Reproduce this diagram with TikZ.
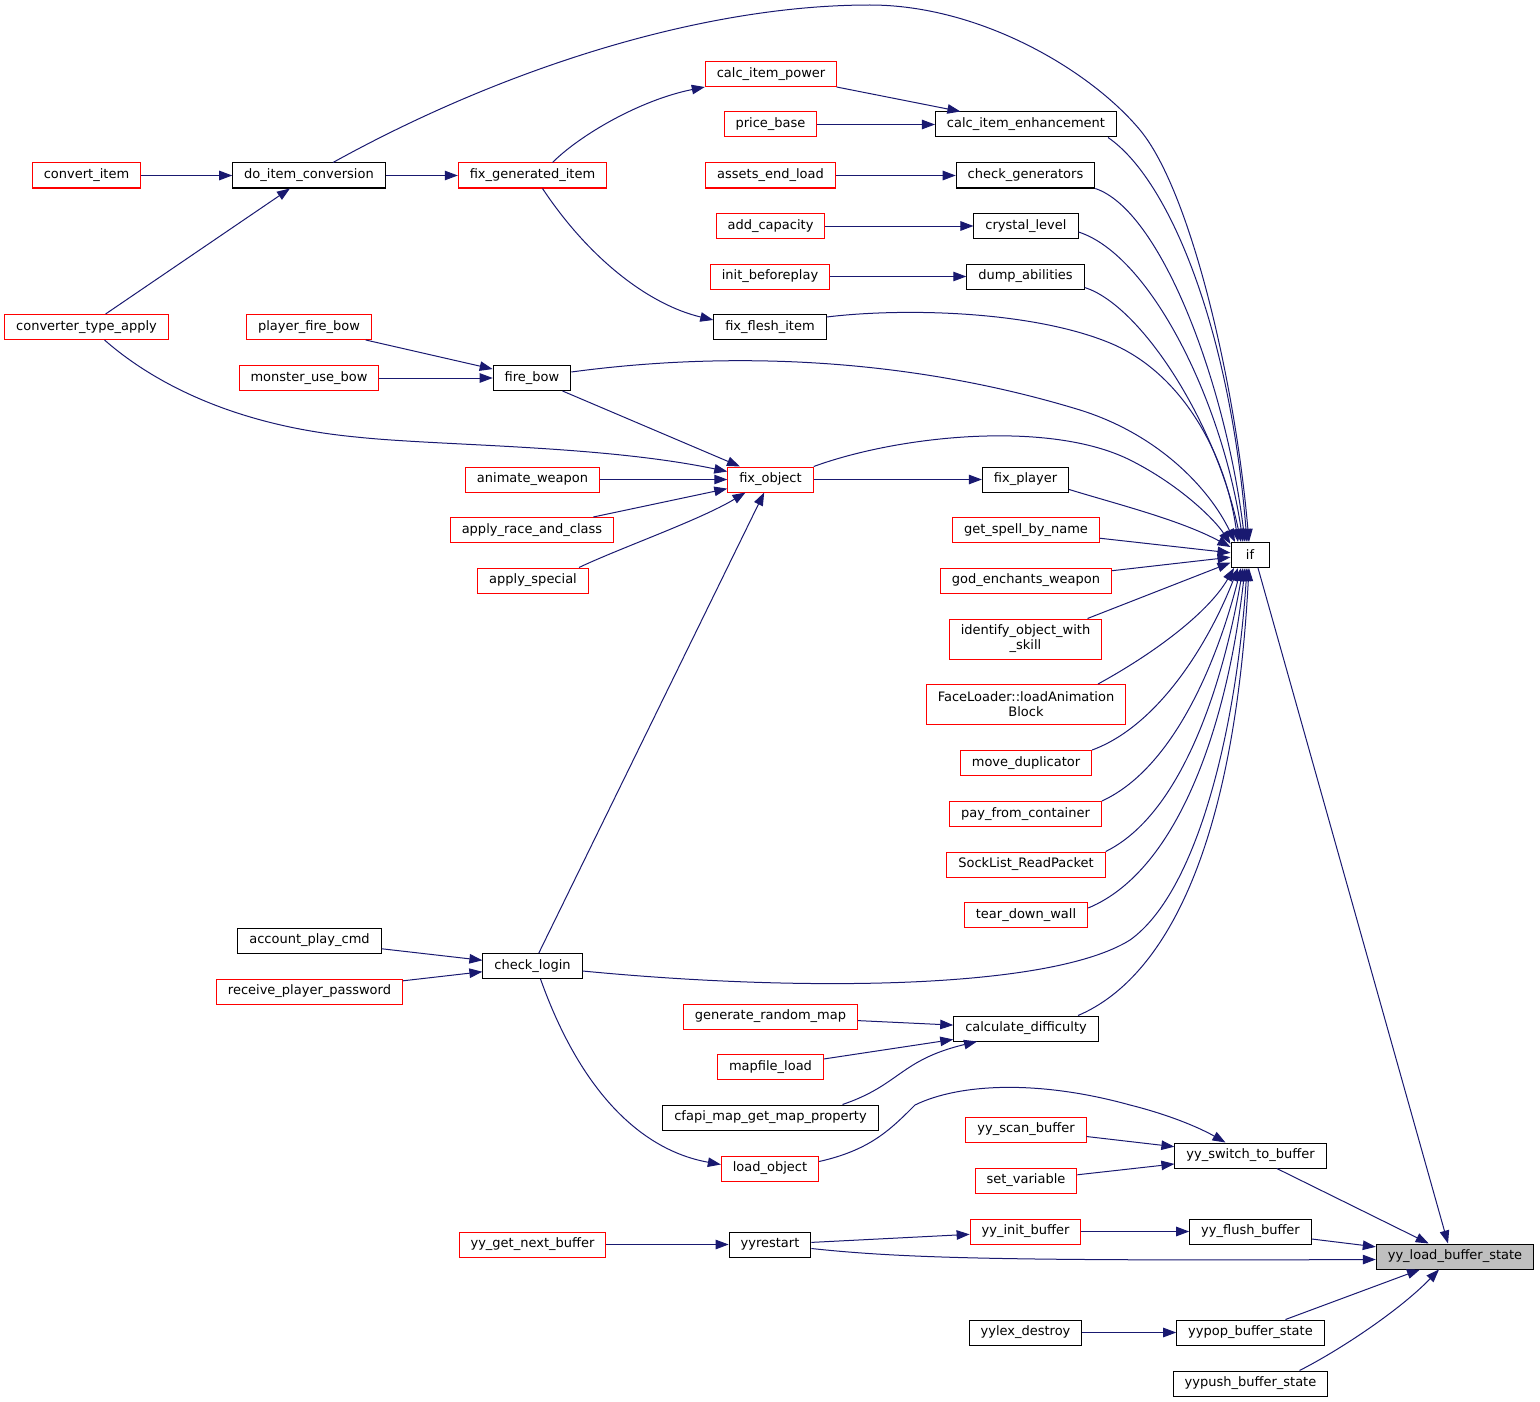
\documentclass[tikz,border=0pt]{standalone}
\usepackage{fontspec}
\setmainfont{DejaVu Sans}
\usetikzlibrary{arrows.meta}
\definecolor{edgeblue}{HTML}{191970}
\definecolor{curgray}{HTML}{BFBFBF}
\begin{document}
\begin{tikzpicture}[x=1pt,y=-1pt,
		fn/.style={draw=black,fill=white,line width=1pt,minimum height=25pt,inner xsep=11.5pt,inner ysep=0pt,font=\fontsize{13}{15}\selectfont},
		fnred/.style={fn,draw=red},
		fncur/.style={fn,fill=curgray},
		call/.style={edgeblue,line width=1pt,-{Triangle[length=13pt,width=9.5pt]}}]
		\useasboundingbox (0,0) rectangle (1540,1402);
		% functions
		\node[fnred] (convItem) at (86.5,175.5) {convert\_item};
		\node[fn] (doConv) at (309,175.5) {do\_item\_conversion};
		\node[fnred] (fixGen) at (532.5,175.5) {fix\_generated\_item};
		\node[fnred] (calcPower) at (771,74) {calc\_item\_power};
		\node[fnred] (priceBase) at (770.5,124.5) {price\_base};
		\node[fn] (calcEnh) at (1026,124.5) {calc\_item\_enhancement};
		\node[fnred] (assetsEnd) at (770.5,175.5) {assets\_end\_load};
		\node[fn] (checkGen) at (1025.5,175.5) {check\_generators};
		\node[fnred] (addCap) at (770.5,226) {add\_capacity};
		\node[fn] (crystal) at (1026,226) {crystal\_level};
		\node[fnred] (initBefore) at (770,276.5) {init\_beforeplay};
		\node[fn] (dumpAb) at (1025.5,276.5) {dump\_abilities};
		\node[fnred] (convType) at (86.5,327) {converter\_type\_apply};
		\node[fnred] (playerBow) at (309,327) {player\_fire\_bow};
		\node[fn] (fixFlesh) at (770,327) {fix\_flesh\_item};
		\node[fnred] (monsterBow) at (309,378) {monster\_use\_bow};
		\node[fn] (fireBow) at (532,378) {fire\_bow};
		\node[fnred] (animWeap) at (532.5,479.5) {animate\_weapon};
		\node[fnred] (fixObj) at (770.5,479.5) {fix\_object};
		\node[fn] (fixPlayer) at (1025.5,479.5) {fix\_player};
		\node[fnred] (applyRace) at (532,530) {apply\_race\_and\_class};
		\node[fnred] (getSpell) at (1026,530) {get\_spell\_by\_name};
		\node[fn,minimum width=38pt] (ifNode) at (1250,555) {if};
		\node[fnred] (applySpec) at (533,580.5) {apply\_special};
		\node[fnred] (godEnch) at (1026,580.5) {god\_enchants\_weapon};
		\node[fnred,minimum height=40pt,align=center] (identify) at (1025.5,639) {identify\_object\_with\\\_skill};
		\node[fnred,minimum height=40pt,align=center] (faceLoad) at (1026,704.5) {FaceLoader::loadAnimation\\Block};
		\node[fnred] (moveDup) at (1026,763) {move\_duplicator};
		\node[fnred] (payFrom) at (1025.5,814) {pay\_from\_container};
		\node[fnred] (sockList) at (1026,864.5) {SockList\_ReadPacket};
		\node[fnred] (tearDown) at (1026,915) {tear\_down\_wall};
		\node[fn] (acctPlay) at (309.5,940.5) {account\_play\_cmd};
		\node[fn] (checkLogin) at (532.5,966) {check\_login};
		\node[fnred] (recvPass) at (309.5,991.5) {receive\_player\_password};
		\node[fnred] (genRand) at (770.5,1016.5) {generate\_random\_map};
		\node[fn] (calcDiff) at (1026,1028.5) {calculate\_difficulty};
		\node[fnred] (mapfile) at (770.5,1067) {mapfile\_load};
		\node[fn] (cfapi) at (770.5,1117.5) {cfapi\_map\_get\_map\_property};
		\node[fnred] (yyScan) at (1026,1129.5) {yy\_scan\_buffer};
		\node[fn] (yySwitch) at (1250.5,1155.5) {yy\_switch\_to\_buffer};
		\node[fnred] (loadObj) at (770,1168.5) {load\_object};
		\node[fnred] (setVar) at (1026,1180.5) {set\_variable};
		\node[fnred] (yyInit) at (1025.5,1231.5) {yy\_init\_buffer};
		\node[fn] (yyFlush) at (1250.5,1231.5) {yy\_flush\_buffer};
		\node[fnred] (yyGetNext) at (532.5,1244.5) {yy\_get\_next\_buffer};
		\node[fn] (yyRestart) at (770,1244.5) {yyrestart};
		\node[fncur] (yyLoad) at (1455,1256.5) {yy\_load\_buffer\_state};
		\node[fn] (yylexDestroy) at (1025.5,1332.5) {yylex\_destroy};
		\node[fn] (yyPop) at (1250.5,1332.5) {yypop\_buffer\_state};
		\node[fn] (yyPush) at (1250.5,1383.5) {yypush\_buffer\_state};
		% calls
		\draw[call] (convItem) -- (doConv);
		\draw[call] (convType) -- (doConv);
		\draw[call] (doConv) -- (fixGen);
		\draw[call] ([xshift=24pt]doConv.north) .. controls (500,70) and (700,5) .. (870,5) .. controls (980,5) and (1090,70) .. (1140,130) .. controls (1190,190) and (1235,380) .. ([xshift=-1pt]ifNode.north);
		\draw[call] ([xshift=20pt]fixGen.north) .. controls (580,135) and (640,100) .. (calcPower.south west);
		\draw[call] ([xshift=10pt]fixGen.south) .. controls (590,260) and (650,305) .. ([yshift=7pt]fixFlesh.west);
		\draw[call] (calcPower) -- (calcEnh);
		\draw[call] (priceBase) -- (calcEnh);
		\draw[call] ([xshift=-9pt]calcEnh.south east) .. controls (1170,180) and (1230,330) .. ([xshift=-3pt]ifNode.north);
		\draw[call] (assetsEnd) -- (checkGen);
		\draw[call] (checkGen.south east) .. controls (1160,210) and (1225,380) .. ([xshift=-5pt]ifNode.north);
		\draw[call] (addCap) -- (crystal);
		\draw[call] ([yshift=-6pt]crystal.east) .. controls (1150,255) and (1222,400) .. ([xshift=-7pt]ifNode.north);
		\draw[call] (initBefore) -- (dumpAb);
		\draw[call] ([yshift=-11pt]dumpAb.east) .. controls (1140,305) and (1215,420) .. ([xshift=-9pt]ifNode.north);
		\draw[call] ([yshift=10pt]fixFlesh.east) .. controls (900,308) and (1030,310) .. (1110,343) .. controls (1180,372) and (1225,450) .. ([xshift=-12pt]ifNode.north);
		\draw[call] (playerBow) -- (fireBow);
		\draw[call] (monsterBow) -- (fireBow);
		\draw[call] ([yshift=6pt]fireBow.east) .. controls (720,352) and (900,355) .. (1080,410) .. controls (1160,435) and (1210,490) .. ([xshift=-15pt]ifNode.north);
		\draw[call] (fireBow) -- (fixObj);
		\draw[call] ([xshift=18pt]convType.south) .. controls (150,380) and (230,425) .. (356,437) .. controls (440,446) and (600,445) .. ([yshift=8pt]fixObj.west);
		\draw[call] (animWeap) -- (fixObj);
		\draw[call] (applyRace) -- (fixObj);
		\draw[call] ([xshift=46pt]applySpec.north) .. controls (620,548) and (700,520) .. ([xshift=-25pt]fixObj.south);
		\draw[call] (checkLogin) -- (fixObj);
		\draw[call] (fixObj) -- (fixPlayer);
		\draw[call] (fixObj.north east) .. controls (900,435) and (1050,420) .. (1130,460) .. controls (1180,485) and (1215,520) .. ([yshift=-2pt]ifNode.north west);
		\draw[call] ([yshift=-10pt]fixPlayer.east) .. controls (1120,505) and (1180,520) .. ([yshift=-5pt]ifNode.north west);
		\draw[call] (getSpell) -- (ifNode);
		\draw[call] (godEnch) -- (ifNode);
		\draw[call] ([xshift=62pt]identify.north) -- (ifNode);
		\draw[call] ([xshift=72pt]faceLoad.north) .. controls (1160,650) and (1210,610) .. ([xshift=-16pt]ifNode.south);
		\draw[call] (moveDup.north east) .. controls (1160,725) and (1210,640) .. ([xshift=-12pt]ifNode.south);
		\draw[call] (payFrom.north east) .. controls (1170,770) and (1215,670) .. ([xshift=-9pt]ifNode.south);
		\draw[call] (sockList.north east) .. controls (1180,815) and (1222,690) .. ([xshift=-7pt]ifNode.south);
		\draw[call] ([yshift=-6pt]tearDown.north east) .. controls (1180,870) and (1228,720) .. ([xshift=-5pt]ifNode.south);
		\draw[call] ([yshift=-5pt]checkLogin.east) .. controls (800,992) and (1050,990) .. (1130,940) .. controls (1200,890) and (1237,720) .. ([xshift=-3pt]ifNode.south);
		\draw[call] ([xshift=52pt]calcDiff.north) .. controls (1150,985) and (1232,880) .. ([xshift=-1pt]ifNode.south);
		\draw[call] ([xshift=8pt]ifNode.south) -- ([xshift=-7pt]yyLoad.north);
		\draw[call] (acctPlay) -- (checkLogin);
		\draw[call] (recvPass) -- (checkLogin);
		\draw[call] ([xshift=8pt]checkLogin.south) .. controls (580,1090) and (640,1150) .. ([yshift=4pt]loadObj.west);
		\draw[call] (genRand) -- (calcDiff);
		\draw[call] (mapfile) -- (calcDiff);
		\draw[call] ([xshift=72pt]cfapi.north) .. controls (900,1085) and (900,1060) .. ([xshift=-49pt]calcDiff.south);
		\draw[call] ([yshift=7pt]loadObj.east) .. controls (870,1150) and (890,1130) .. (915,1105) .. controls (960,1083) and (1040,1080) .. (1130,1105) .. controls (1170,1115) and (1200,1128) .. ([xshift=-25pt]yySwitch.north);
		\draw[call] (yyScan) -- (yySwitch);
		\draw[call] (setVar) -- (yySwitch);
		\draw[call] (yySwitch) -- (yyLoad);
		\draw[call] (yyGetNext) -- (yyRestart);
		\draw[call] (yyRestart) -- (yyInit);
		\draw[call] ([yshift=-4pt]yyRestart.east) .. controls (900,1258) and (1000,1261) .. ([yshift=-3pt]yyLoad.west);
		\draw[call] (yyInit) -- (yyFlush);
		\draw[call] (yyFlush) -- (yyLoad);
		\draw[call] (yylexDestroy) -- (yyPop);
		\draw[call] (yyPop) -- (yyLoad);
		\draw[call] ([xshift=49pt]yyPush.north) .. controls (1340,1350) and (1400,1310) .. ([xshift=-16pt]yyLoad.south);
	\end{tikzpicture}
\end{document}
